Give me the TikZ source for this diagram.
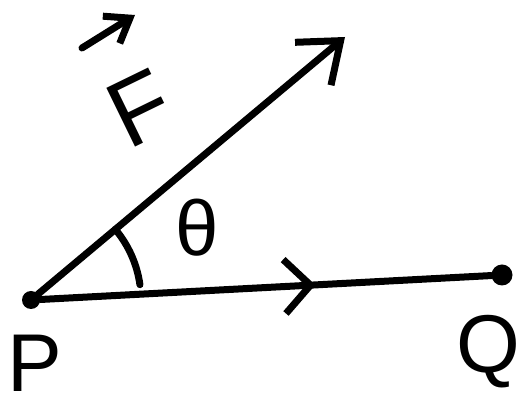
\documentclass[tikz,border=0pt]{standalone}
\usepackage{fontspec}
\setmainfont{Liberation Sans}
\usetikzlibrary{arrows.meta, decorations.markings}

\begin{document}
\begin{tikzpicture}[
    x=1pt, y=1pt,
    coret/.style={line width=7pt, line cap=round, line join=round},
    titik/.style={circle, fill, inner sep=0pt},
    tanda/.style={inner sep=0pt, font=\fontsize{#1}{#1}\selectfont}
  ]
    \useasboundingbox (0,0) rectangle (523,404);
    \node[titik, minimum size=18pt] (P) at (31,104) {};
    \node[titik, minimum size=21pt] (Q) at (502,129) {};
    \coordinate (ujung) at (345,367);
    \coordinate (vawal) at (82,356);
    \coordinate (vujung) at (135,389);
    % gaya dan lintasan
    \draw[coret, -{Straight Barb[length=36pt, width=56pt]}] (P) -- (ujung);
    \draw[coret, postaction={decorate}, decoration={markings,
        mark=at position 0.61 with {\arrow{Straight Barb[length=26pt, width=54pt]}}}] (P) -- (Q);
    \draw[coret, -{Straight Barb[length=22pt, width=32pt]}] (vawal) -- (vujung);
    % sudut
    \draw[coret] (P) ++(40:110) arc[start angle=40, end angle=8, radius=110pt];
    \node[tanda=82pt] (lblP) at (35,41) {P};
    \node[tanda=82pt] (lblQ) at (488,52) {Q};
    \node[tanda=78pt] (lblT) at (197,176) {θ};
    \node[tanda=95pt, rotate=26] (lblF) at (140,296) {F};
\end{tikzpicture}
\end{document}
